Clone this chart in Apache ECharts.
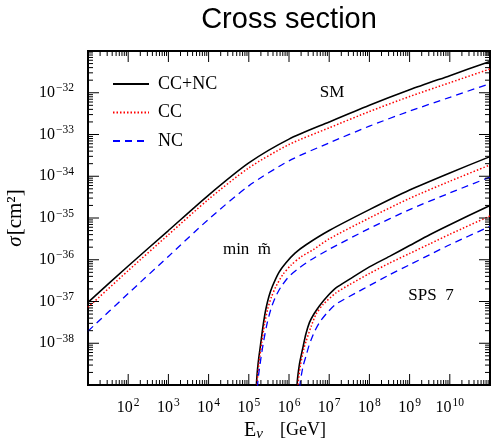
<!DOCTYPE html>
<html>
<head>
<meta charset="utf-8">
<script src="https://cdn.jsdelivr.net/npm/echarts@6/dist/echarts.min.js"></script>
<style>
html,body{margin:0;padding:0;background:#fff;}
#chart{width:491px;height:443px;}
</style>
</head>
<body>
<div id="chart"></div>
<script>
// ---- data: [log10(E/GeV), log10(sigma/cm^2)] ----
const smTotal = [[1,-37.02],[2,-36.15],[3,-35.30],[4,-34.45],[5,-33.68],[6,-33.11],[7,-32.70],[8,-32.30],[9,-31.93],[10,-31.59],[11,-31.25]];
const smCC    = [[1,-37.14],[2,-36.26],[3,-35.40],[4,-34.55],[5,-33.80],[6,-33.24],[7,-32.84],[8,-32.45],[9,-32.09],[10,-31.76],[11,-31.43]];
const smNC    = [[1,-37.71],[2,-36.81],[3,-35.92],[4,-35.03],[5,-34.23],[6,-33.63],[7,-33.20],[8,-32.80],[9,-32.44],[10,-32.11],[11,-31.78]];

const minTotal = [[5.17,-40.5],[5.19,-39.0],[5.23,-38.5],[5.3,-37.98],[5.36,-37.55],[5.425,-37.18],[5.5,-36.88],[5.59,-36.63],[5.75,-36.3],[5.925,-36.07],[6.15,-35.84],[6.425,-35.64],[7,-35.3],[8,-34.8],[9,-34.33],[10,-33.92],[11,-33.53]];
const minCC    = [[5.185,-40.5],[5.205,-39.0],[5.25,-38.5],[5.32,-38.0],[5.39,-37.55],[5.47,-37.18],[5.56,-36.9],[5.67,-36.65],[5.85,-36.35],[6.05,-36.13],[6.3,-35.93],[6.6,-35.76],[7,-35.5],[8,-35.0],[9,-34.53],[10,-34.12],[11,-33.73]];
const minNC    = [[5.2,-40.5],[5.22,-39.0],[5.28,-38.5],[5.36,-38.0],[5.45,-37.55],[5.55,-37.18],[5.66,-36.9],[5.8,-36.65],[6.0,-36.4],[6.25,-36.2],[6.55,-36.0],[7,-35.75],[8,-35.25],[9,-34.8],[10,-34.4],[11,-34.02]];

const spsTotal = [[6.17,-40.5],[6.2,-39.0],[6.26,-38.5],[6.34,-38.13],[6.42,-37.78],[6.51,-37.5],[6.62,-37.3],[6.76,-37.1],[6.95,-36.88],[7.175,-36.67],[7.5,-36.47],[8,-36.17],[8.5,-35.92],[9,-35.66],[9.5,-35.4],[10,-35.16],[11,-34.7]];
const spsCC    = [[6.2,-40.5],[6.225,-39.0],[6.29,-38.5],[6.37,-38.13],[6.425,-37.95],[6.55,-37.6],[6.675,-37.3],[6.85,-37.07],[7.175,-36.79],[7.5,-36.6],[8,-36.33],[8.5,-36.08],[9,-35.85],[9.5,-35.62],[10,-35.39],[11,-34.95]];
const spsNC    = [[6.25,-40.5],[6.275,-39.0],[6.35,-38.55],[6.425,-38.3],[6.5,-38.05],[6.62,-37.75],[6.76,-37.5],[6.95,-37.27],[7.175,-37.06],[7.675,-36.79],[8.0,-36.62],[8.5,-36.36],[9,-36.12],[9.5,-35.88],[10,-35.64],[11,-35.2]];

const legendNames = ['CC+NC','CC','NC'];
const xExpMin = 1, xExpMax = 11;
const yExpMin = -39, yExpMax = -31;
const annotations = [
  {text:'SM', x:332, y:93},
  {text:'min  m\u0303', x:247, y:250},
  {text:'SPS  7', x:431, y:296}
];

// ---- helpers ----
const SERIF = 'Liberation Serif';
function supLabel(v, lo, hi){
  if (v <= lo || v >= hi) return '';
  const s = v < 0 ? '\u2212' + (-v) : '' + v;
  return '{b|10}{s|' + s + '}';
}
const richSup = {
  b:{fontFamily:SERIF, fontSize:16, color:'#000'},
  s:{fontFamily:SERIF, fontSize:11.5, color:'#000', padding:[0,0,9,1]}
};
function logTicks(lo, hi){
  const t = [];
  for (let d = lo; d < hi; d++) {
    for (let k = 1; k <= 9; k++) t.push([d + Math.log10(k), k === 1 ? 1 : 0]);
  }
  t.push([hi, 1]);
  return t;
}
const styles = {
  'CC+NC': {color:'#000000', type:'solid', width:1.6},
  'CC':    {color:'#ff0000', type:[1.5,2], width:1.5},
  'NC':    {color:'#0000ff', type:[7,5], width:1.3}
};
function lineSeries(name, data){
  const st = styles[name];
  return {
    type:'line', name:name, data:data, symbol:'none', showSymbol:false,
    smooth:0.25, clip:true, silent:true,
    lineStyle:{color:st.color, type:st.type, width:st.width},
    itemStyle:{color:st.color}, z:3
  };
}
const MAJ = 11, MIN = 5;
const tickSeriesX = {
  type:'custom', silent:true, clip:false, z:4,
  data: logTicks(xExpMin, xExpMax),
  encode:{x:0},
  renderItem:function(params, api){
    const v = api.value(0), len = api.value(1) ? MAJ : MIN;
    const b = api.coord([v, yExpMin]), t = api.coord([v, yExpMax]);
    return {type:'group', children:[
      {type:'line', shape:{x1:b[0], y1:b[1], x2:b[0], y2:b[1]-len}, style:{stroke:'#000', lineWidth:1}},
      {type:'line', shape:{x1:t[0], y1:t[1], x2:t[0], y2:t[1]+len}, style:{stroke:'#000', lineWidth:1}}
    ]};
  }
};
const tickSeriesY = {
  type:'custom', silent:true, clip:false, z:4,
  data: logTicks(yExpMin, yExpMax).map(p => [xExpMin, p[0], p[1]]),
  encode:{x:0, y:1},
  renderItem:function(params, api){
    const v = api.value(1), len = api.value(2) ? MAJ : MIN;
    const l = api.coord([xExpMin, v]), r = api.coord([xExpMax, v]);
    return {type:'group', children:[
      {type:'line', shape:{x1:l[0], y1:l[1], x2:l[0]+len, y2:l[1]}, style:{stroke:'#000', lineWidth:1}},
      {type:'line', shape:{x1:r[0], y1:r[1], x2:r[0]-len, y2:r[1]}, style:{stroke:'#000', lineWidth:1}}
    ]};
  }
};

const chart = echarts.init(document.getElementById('chart'), null, {renderer:'canvas'});
const option = {
  animation:false,
  backgroundColor:'#fff',
  grid:{left:88, top:51, right:1, bottom:58, containLabel:false, outerBoundsMode:'none',
        show:true, borderColor:'#000', borderWidth:2, backgroundColor:'transparent'},
  legend:{
    data:legendNames, orient:'vertical', left:112, top:75, padding:0,
    itemWidth:36, itemHeight:14, itemGap:10.5, selectedMode:false,
    itemStyle:{opacity:0},
    textStyle:{fontFamily:SERIF, fontSize:18, lineHeight:18, color:'#000', padding:[0,0,0,4]}
  },
  xAxis:{
    type:'value', min:xExpMin, max:xExpMax, interval:1,
    axisLine:{show:false}, axisTick:{show:false}, splitLine:{show:false},
    axisLabel:{margin:12, formatter:v => supLabel(v, xExpMin, xExpMax), rich:richSup},
    name:'{e|E}{n|\u03bd}{g|[GeV]}', nameLocation:'middle', nameGap:33,
    nameTextStyle:{padding:[0,8,0,0], rich:{
      e:{fontFamily:SERIF, fontSize:20, color:'#000'},
      n:{fontFamily:SERIF, fontSize:15, fontStyle:'italic', color:'#000', padding:[7,0,0,0]},
      g:{fontFamily:SERIF, fontSize:18, color:'#000', padding:[0,0,0,17]}
    }}
  },
  yAxis:{
    type:'value', min:yExpMin, max:yExpMax, interval:1,
    axisLine:{show:false}, axisTick:{show:false}, splitLine:{show:false},
    axisLabel:{margin:14, formatter:v => supLabel(v, yExpMin, yExpMax), rich:richSup},
    name:'{i|\u03c3}{g|[cm\u00b2]}', nameLocation:'middle', nameGap:62, nameRotate:90,
    nameTextStyle:{rich:{
      i:{fontFamily:SERIF, fontSize:21, fontStyle:'italic', color:'#000'},
      g:{fontFamily:SERIF, fontSize:21, color:'#000', padding:[0,0,0,1]}
    }}
  },
  graphic:[
    {type:'text', x:289, y:20, style:{text:'Cross section', font:'29px "Liberation Sans"', fill:'#000', align:'center', verticalAlign:'middle'}}
  ].concat(annotations.map(a => ({
    type:'text', x:a.x, y:a.y, z:5,
    style:{text:a.text, font:'17px "' + SERIF + '"', fill:'#000', align:'center', verticalAlign:'middle'}
  }))),
  series:[
    lineSeries('CC+NC', smTotal), lineSeries('CC', smCC), lineSeries('NC', smNC),
    lineSeries('CC+NC', minTotal), lineSeries('CC', minCC), lineSeries('NC', minNC),
    lineSeries('CC+NC', spsTotal), lineSeries('CC', spsCC), lineSeries('NC', spsNC),
    tickSeriesX, tickSeriesY
  ]
};
chart.setOption(option);
</script>
</body>
</html>
